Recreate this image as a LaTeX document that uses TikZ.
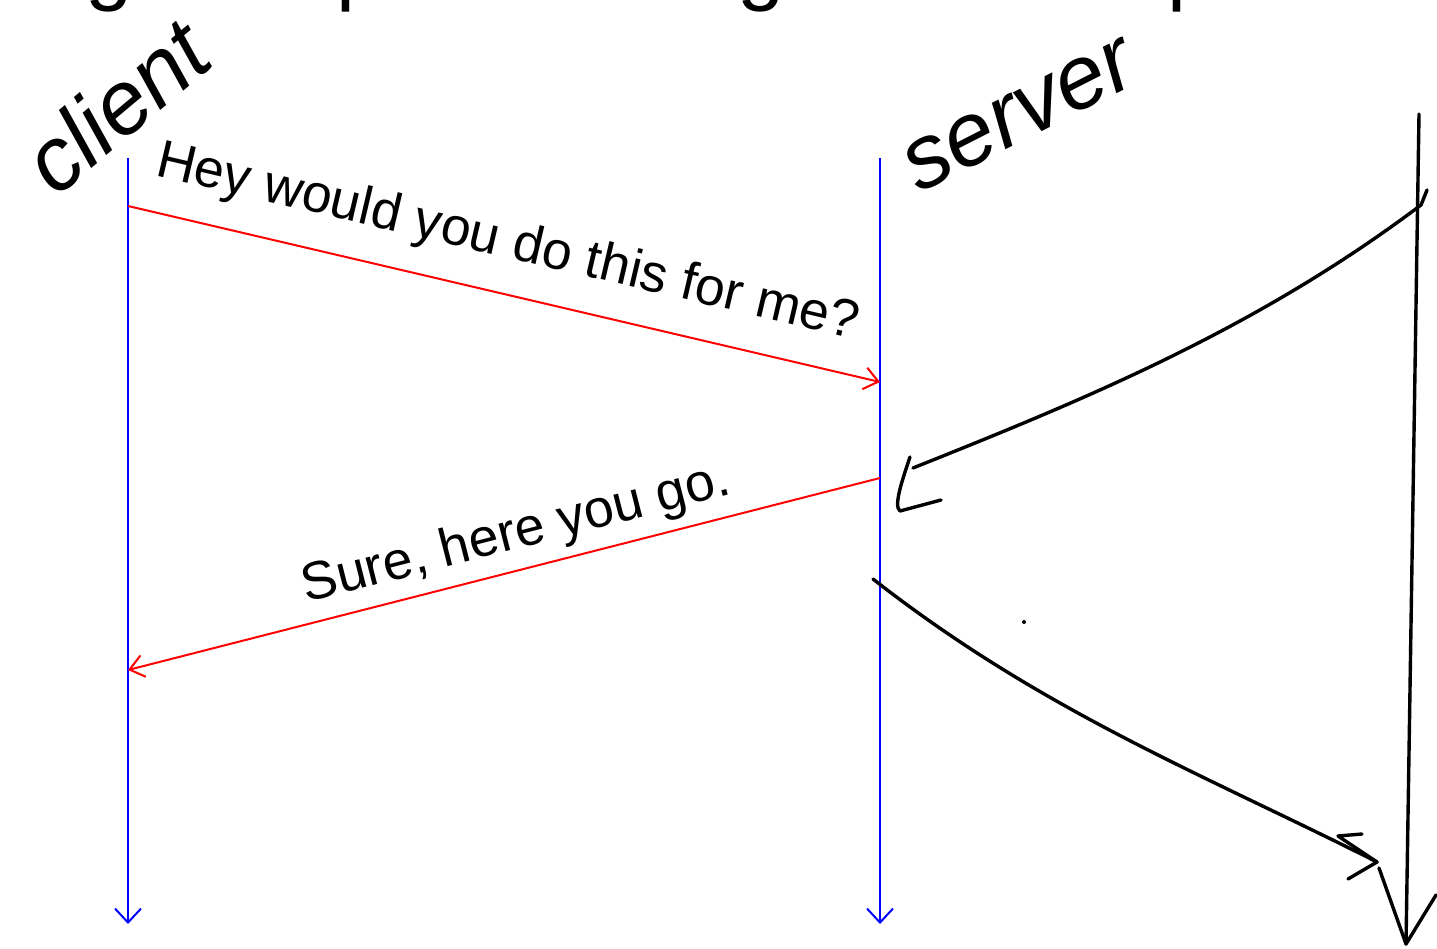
\documentclass[tikz,border=0pt]{standalone}
\usepackage{fontspec}
\setmainfont{Liberation Sans}
\usetikzlibrary{arrows.meta,positioning,calc}

\begin{document}
\begin{tikzpicture}[x=1pt,y=-1pt,
  life/.style={draw=blue,line width=2pt,-{Straight Barb[length=14pt,width=26pt]}},
  msg/.style={draw=red,line width=2pt,-{Straight Barb[length=14pt,width=22pt]}},
  said/.style={font=\fontsize{53.5}{60}\selectfont,inner sep=0pt},
  hand/.style={font=\fontsize{90}{100}\selectfont\itshape,inner sep=0pt},
  sketch/.style={draw=black,line width=3.4pt,line cap=round,line join=round}]
  \useasboundingbox (0,0) rectangle (1437,948);
  % title, cut off at the top
  \begin{scope}
    \clip (0,0) rectangle (1437,948);
    \node[anchor=base west,inner sep=0pt,font=\fontsize{85}{100}\selectfont] (title) at (10,-6) {Big Computation Big Slow Response};
  \end{scope}
  % lifelines
  \coordinate (ctop) at (128,158); \coordinate (cend) at (128,924);
  \coordinate (stop) at (880,158); \coordinate (send) at (880,924);
  \draw[life] (ctop) -- (cend);
  \draw[life] (stop) -- (send);
  \node[hand,rotate=40] (client) at (116,106) {client};
  \node[hand,rotate=27] (server) at (1020,116) {server};
  % messages
  \coordinate (ask) at (128,206); \coordinate (asked) at (880,382);
  \coordinate (reply) at (880,478); \coordinate (replied) at (128,670);
  \draw[msg] (ask) -- node[said,sloped,above=24pt,pos=0.49] (askmsg) {Hey would you do this for me?} (asked);
  \draw[msg] (reply) -- node[said,sloped,above=9pt,pos=0.472] (replymsg) {Sure, here you go.} (replied);
  % scribbled long job on the right
  \coordinate (wtop) at (1419,114); \coordinate (wend) at (1406,944);
  \draw[sketch] (wtop) -- (wend);
  \draw[sketch] (1379,868) -- (wend) -- (1436,895);
  \coordinate (wake) at (1421,205); \coordinate (woke) at (913,468);
  \draw[sketch] (1427,190) -- (wake) .. controls (1255,330) and (1083,400) .. (woke);
  \draw[sketch] (910,457) .. controls (903,478) and (893,506) .. (900,511) -- (941,500);
  \coordinate (hand) at (873,579); \coordinate (handed) at (1377,862);
  \draw[sketch] (hand) .. controls (1043,712) and (1205,775) .. (handed);
  \draw[sketch] (1362,834) -- (1338,836) -- (handed) -- (1348,879);
  \fill (1024,622) circle (2pt);
\end{tikzpicture}
\end{document}
